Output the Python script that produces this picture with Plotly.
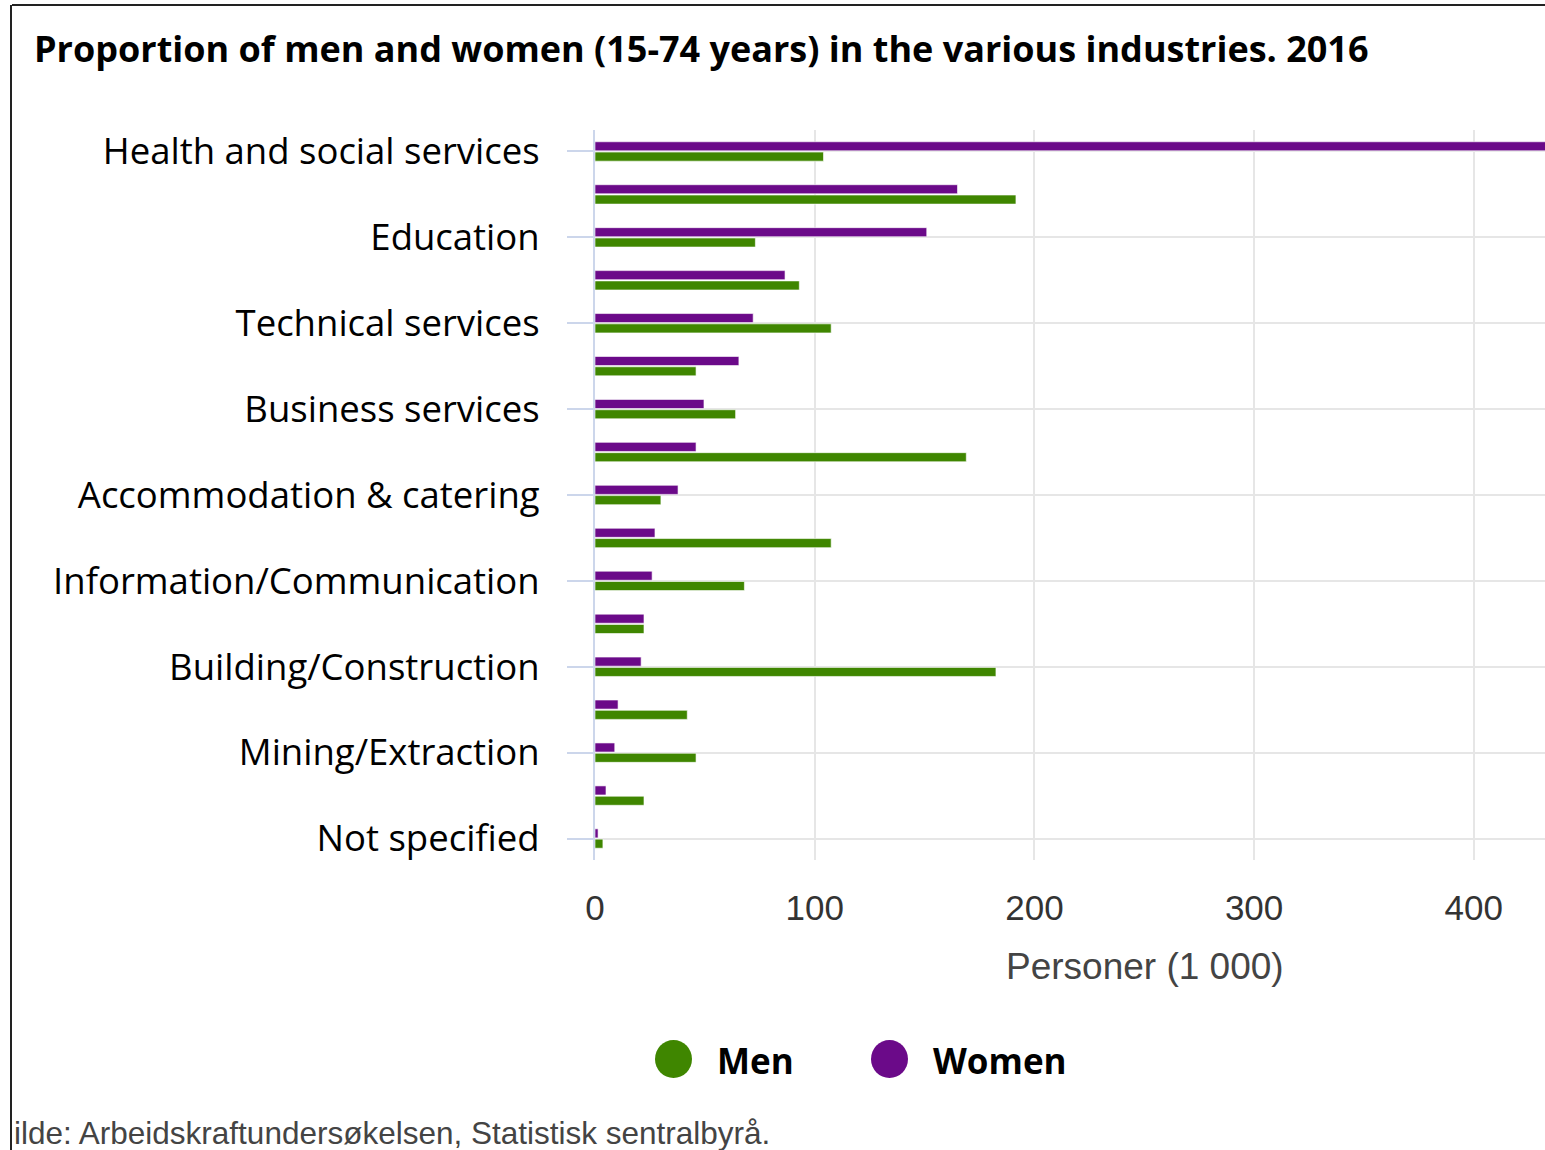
import plotly.graph_objects as go

# ---- data ----
row_labels = [
    "Health and social services", "", "Education", "", "Technical services", "",
    "Business services", "", "Accommodation & catering", "", "Information/Communication", "",
    "Building/Construction", "", "Mining/Extraction", "", "Not specified",
]
women = [450, 165, 151, 86.5, 72, 65.5, 49.6, 46, 37.8, 27.3, 26, 22.3, 21, 10.5, 9, 5, 1.4]
men = [104, 191.6, 73, 93, 107.5, 46, 64, 169, 30, 107.5, 68, 22.3, 182.5, 42, 46, 22.3, 3.6]
x_ticks = [0, 100, 200, 300, 400]
series_names = ["Men", "Women"]
title_text = "Proportion of men and women (15-74 years) in the various industries. 2016"
axis_title = "Personer (1 000)"
source_text = "ilde: Arbeidskraftundersøkelsen, Statistisk sentralbyrå."

GREEN = "#3f8600"
PURPLE = "#6b0a89"

W, H = 1545, 1150
ML, MR, MT, MB = 595, 0, 130, 290
PW, PH = W - ML - MR, H - MT - MB


def px(x):
    return (x - ML) / PW


def py(y):
    return (H - MB - y) / PH


rows = list(range(len(row_labels)))
tickvals = [i for i, t in enumerate(row_labels) if t]
ticktext = [t for t in row_labels if t]

fig = go.Figure()
fig.add_trace(go.Bar(y=rows, x=women, orientation="h", name=series_names[1],
                     marker=dict(color=PURPLE, line=dict(color="rgba(255,255,255,0.6)", width=1)),
                     showlegend=False))
fig.add_trace(go.Bar(y=rows, x=men, orientation="h", name=series_names[0],
                     marker=dict(color=GREEN, line=dict(color="rgba(255,255,255,0.6)", width=1)),
                     showlegend=False))

shapes = [
    # frame lines
    dict(type="line", xref="paper", yref="paper", x0=px(12), x1=px(W + 5), y0=py(5), y1=py(5),
         line=dict(color="#222", width=2)),
    dict(type="line", xref="paper", yref="paper", x0=px(11), x1=px(11), y0=py(5), y1=py(H + 5),
         line=dict(color="#222", width=2)),
    # legend symbols
    dict(type="circle", xref="paper", yref="paper", x0=px(655), x1=px(692), y0=py(1078), y1=py(1040),
         fillcolor=GREEN, line=dict(width=0)),
    dict(type="circle", xref="paper", yref="paper", x0=px(871), x1=px(908), y0=py(1078), y1=py(1040),
         fillcolor=PURPLE, line=dict(width=0)),
]

annotations = [
    dict(text="<b>" + series_names[0] + "</b>", xref="paper", yref="paper", x=px(715), y=py(1060),
         xanchor="left", yanchor="middle", showarrow=False,
         font=dict(family="Open Sans", size=35, color="#000")),
    dict(text="<b>" + series_names[1] + "</b>", xref="paper", yref="paper", x=px(931), y=py(1060),
         xanchor="left", yanchor="middle", showarrow=False,
         font=dict(family="Open Sans", size=35, color="#000")),
    dict(text=axis_title, xref="paper", yref="paper", x=px(1145), y=py(966),
         xanchor="center", yanchor="middle", showarrow=False,
         font=dict(family="Liberation Sans", size=37, color="#444")),
    dict(text=source_text, xref="paper", yref="paper", x=px(12), y=py(1133),
         xanchor="left", yanchor="middle", showarrow=False,
         font=dict(family="Liberation Sans", size=31.5, color="#444")),
]

fig.update_layout(
    width=W, height=H,
    margin=dict(l=ML, r=MR, t=MT, b=MB, pad=0),
    paper_bgcolor="white", plot_bgcolor="white",
    barmode="group", bargap=0.52, bargroupgap=0.12,
    title=dict(text="<b>" + title_text + "</b>", xref="container", yref="container",
               x=34 / W, xanchor="left", y=1 - 49 / H, yanchor="middle",
               font=dict(family="Open Sans", size=36, color="#000")),
    xaxis=dict(range=[0, PW / 2.197], tickvals=x_ticks, showgrid=True, gridcolor="#e6e6e6",
               gridwidth=2, zeroline=False, showline=False, ticks="", ticklabelstandoff=24,
               tickfont=dict(family="Liberation Sans", size=35, color="#333")),
    yaxis=dict(range=[len(rows) - 0.5, -0.5], tickvals=tickvals, ticktext=ticktext,
               showgrid=True, gridcolor="#e6e6e6", gridwidth=2, zeroline=False,
               showline=True, linecolor="#ccd6eb", linewidth=2,
               ticks="outside", ticklen=26, tickwidth=2, tickcolor="#ccd6eb",
               ticklabelstandoff=20,
               tickfont=dict(family="Open Sans", size=36.5, color="#000")),
    shapes=shapes, annotations=annotations,
    showlegend=False,
)

fig.write_html("out.html", post_script="document.body.style.margin='0';",
               config={"displayModeBar": False})
